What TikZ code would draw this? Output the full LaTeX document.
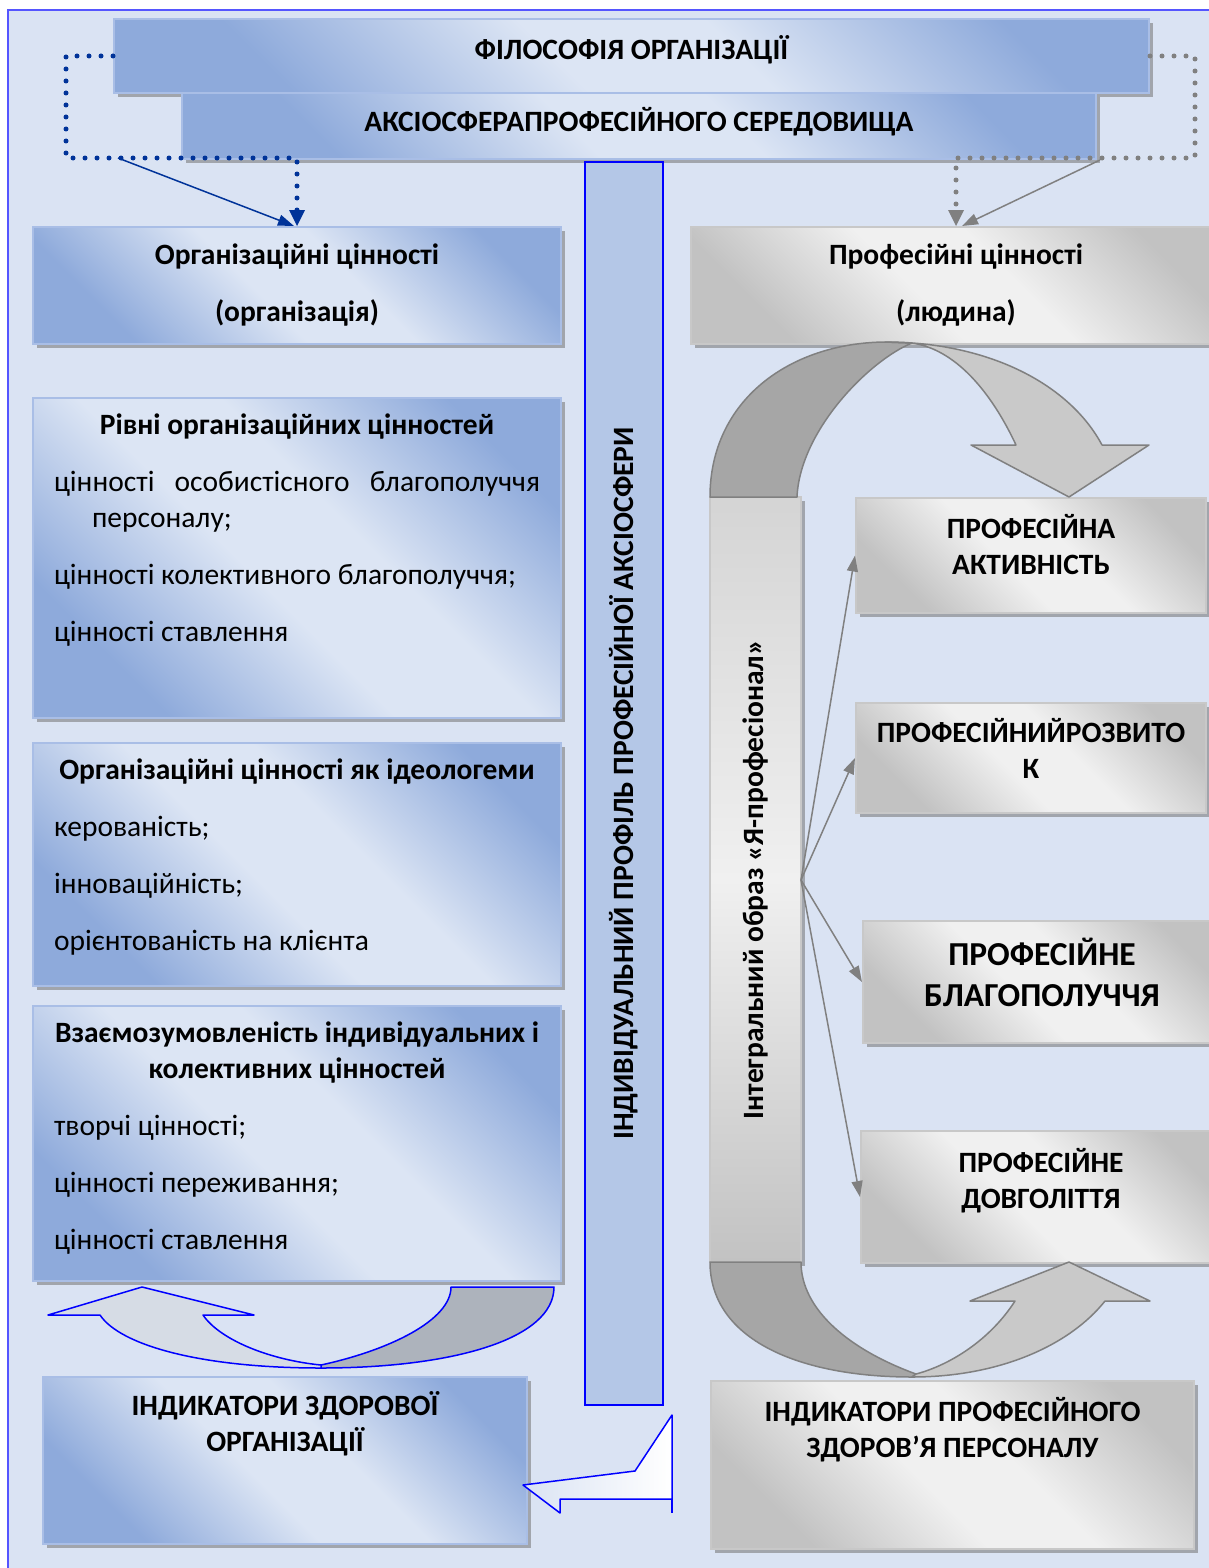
\documentclass[tikz,border=0pt]{standalone}
\usepackage{fontspec}
\setmainfont{Carlito}
\usetikzlibrary{positioning,arrows.meta,shadows}

\definecolor{bgblue}{HTML}{DAE3F3}
\definecolor{frameblue}{HTML}{5555FF}
\definecolor{blueL}{HTML}{DCE5F4}
\definecolor{blueD}{HTML}{8EAADB}
\definecolor{blueline}{HTML}{A9BEE6}
\definecolor{barblue}{HTML}{B4C7E7}
\definecolor{pureblue}{HTML}{0000FF}
\definecolor{dotblue}{HTML}{003399}
\definecolor{grayL}{HTML}{F0F0F0}
\definecolor{grayD}{HTML}{C2C2C2}
\definecolor{grayline}{HTML}{C8C8C8}
\definecolor{arrowgray}{HTML}{808080}
\definecolor{arrowD}{HTML}{A6A6A6}
\definecolor{arrowL}{HTML}{C9C9C9}
\definecolor{uarrowD}{HTML}{ADB3BC}
\definecolor{uarrowL}{HTML}{D6DCE5}

\pgfdeclarehorizontalshading{bluediag}{100bp}{color(0bp)=(blueD); color(26bp)=(blueD); color(45bp)=(blueL); color(57bp)=(blueL); color(76bp)=(blueD); color(100bp)=(blueD)}
\pgfdeclarehorizontalshading{graydiag}{100bp}{color(0bp)=(grayD); color(26bp)=(grayD); color(45bp)=(grayL); color(57bp)=(grayL); color(76bp)=(grayD); color(100bp)=(grayD)}

\begin{document}
\begin{tikzpicture}[x=1pt, y=-1pt, font=\fontsize{29.5}{36}\selectfont]
\tikzstyle{boxshadow}=[drop shadow={shadow xshift=4pt, shadow yshift=-4pt, fill=black!55, opacity=.55}]
\tikzstyle{bluebox}=[rectangle, boxshadow, draw=blueline, line width=2pt, shading=bluediag, shading angle=45, inner sep=0pt, align=center, anchor=north west]
\tikzstyle{graybox}=[rectangle, boxshadow, draw=grayline, line width=2pt, shading=graydiag, shading angle=45, inner sep=0pt, align=center, anchor=north west]
\tikzstyle{headtext}=[font=\fontsize{29.5}{36}\selectfont\bfseries]
\tikzstyle{dotconn}=[line width=5pt, dash pattern=on 0pt off 12pt, line cap=round, -{Triangle[length=16pt, width=16pt, line width=0pt]}]
\tikzstyle{connect}=[line width=1.5pt, -{Triangle[length=16pt, width=11pt]}]
\tikzstyle{band}=[line width=1.5pt, line join=round]

\useasboundingbox (0,0) rectangle (1208,1568);
\draw[frameblue, line width=1.5pt, fill=bgblue] (8,10) rectangle (1250,1600);

% 1. Top boxes
%%%%%%%%%%%%%%
\node[bluebox, headtext, minimum width=1035pt, minimum height=74pt, text depth=18pt] (phil) at (113,18) {ФІЛОСОФІЯ ОРГАНІЗАЦІЇ};
\node[bluebox, headtext, minimum width=914pt, minimum height=66pt, text depth=13pt] (axio) at (181,92) {АКСІОСФЕРАПРОФЕСІЙНОГО СЕРЕДОВИЩА};

% 2. Left column
%%%%%%%%%%%%%%%
\node[bluebox, headtext, minimum width=528pt, minimum height=117pt] (orgval) at (32,226) {Організаційні цінності\\[21pt](організація)};
\node[bluebox, inner xsep=21pt, inner ysep=10pt, below=52pt of orgval] (levels) {\parbox[c][300pt][t]{486pt}{\baselineskip=36pt \vspace*{6pt}
  {\centering\bfseries Рівні організаційних цінностей\par}\parskip=21pt
  цінності\hfill особистісного\hfill благополуччя\\\hspace*{38pt}персоналу;\par
  цінності колективного благополуччя;\par
  цінності ставлення}};
\node[bluebox, inner xsep=21pt, inner ysep=10pt, below=23pt of levels] (ideol) {\parbox[c][223pt][t]{486pt}{\baselineskip=36pt \vspace*{6pt}
  {\centering\bfseries Організаційні цінності як ідеологеми\par}\parskip=21pt
  керованість;\par
  інноваційність;\par
  орієнтованість на клієнта}};
\node[bluebox, inner xsep=21pt, inner ysep=10pt, below=18pt of ideol] (mutual) {\parbox[c][255pt][t]{486pt}{\baselineskip=36pt \vspace*{6pt}
  {\centering\bfseries Взаємозумовленість індивідуальних і\\колективних цінностей\par}\parskip=21pt
  творчі цінності;\par
  цінності переживання;\par
  цінності ставлення}};
\node[bluebox, headtext] (indorg) at (42,1376) {\parbox[c][167pt][t]{484pt}{\centering\vspace*{14pt}ІНДИКАТОРИ ЗДОРОВОЇ\\ОРГАНІЗАЦІЇ}};

% 3. Centre bars
%%%%%%%%%%%%%%%
\node[rectangle, rotate=90, minimum width=1243pt, minimum height=78pt, fill=barblue, draw=pureblue, line width=2pt, headtext] (profile) at (624,783.5) {ІНДИВІДУАЛЬНИЙ ПРОФІЛЬ ПРОФЕСІЙНОЇ АКСІОСФЕРИ};
\node[rectangle, rotate=90, boxshadow, minimum width=765pt, minimum height=91pt, top color=grayD!60!grayL, bottom color=grayD, middle color=grayL, draw=grayline, line width=2pt, headtext] (image) at (755.5,879.5) {Інтегральний образ «Я-професіонал»};

% 4. Right column
%%%%%%%%%%%%%%%%
\node[graybox, headtext, minimum width=530pt, minimum height=117pt] (profval) at (690,226) {Професійні цінності\\[21pt](людина)};
\node[graybox, headtext] (act) at (855,497) {\parbox[c][115pt][t]{350pt}{\centering\vspace*{16pt}ПРОФЕСІЙНА\\АКТИВНІСТЬ}};
\node[graybox, headtext, below=88pt of act] (dev) {\parbox[c][110pt][t]{350pt}{\centering\vspace*{15pt}ПРОФЕСІЙНИЙРОЗВИТО\\К}};
\node[graybox, font=\fontsize{33.5}{41}\selectfont\bfseries] (well) at (862,920) {\parbox[c][122pt][t]{358pt}{\centering\vspace*{17pt}ПРОФЕСІЙНЕ\\БЛАГОПОЛУЧЧЯ}};
\node[graybox, headtext] (long) at (860,1130) {\parbox[c][132pt][t]{360pt}{\centering\vspace*{17pt}ПРОФЕСІЙНЕ\\ДОВГОЛІТТЯ}};
\node[graybox, headtext] (indpers) at (710,1380) {\parbox[c][168pt][t]{483pt}{\centering\vspace*{16pt}ІНДИКАТОРИ ПРОФЕСІЙНОГО\\ЗДОРОВ’Я ПЕРСОНАЛУ}};

% 5. Curved arrows
%%%%%%%%%%%%%%%%%
\filldraw[band, draw=arrowgray, fill=arrowD] (710,497) .. controls (710,400) and (790,343) .. (885,342) -- (912,343) .. controls (870,360) and (800,430) .. (797,497) -- cycle;
\filldraw[band, draw=arrowgray, fill=arrowL] (885,342) .. controls (990,342) and (1070,385) .. (1102,445) -- (1149,445) -- (1069,497) -- (971,445) -- (1016,445) .. controls (995,400) and (960,350) .. (912,343) -- cycle;
\filldraw[band, draw=arrowgray, fill=arrowD] (710,1262) .. controls (710,1340) and (800,1377) .. (912,1377) -- (916,1374) .. controls (850,1350) and (801,1310) .. (801,1262) -- cycle;
\filldraw[band, draw=arrowgray, fill=arrowL] (912,1377) .. controls (1000,1377) and (1070,1345) .. (1105,1301) -- (1150,1301) -- (1069,1262) -- (970,1301) -- (1015,1301) .. controls (990,1340) and (950,1365) .. (916,1374) -- cycle;
\filldraw[band, draw=pureblue, fill=uarrowD] (451,1287) -- (554,1287) .. controls (554,1340) and (450,1368) .. (321,1368) -- (321,1365) .. controls (390,1350) and (451,1320) .. (451,1287) -- cycle;
\filldraw[band, draw=pureblue, fill=uarrowL] (321,1368) .. controls (200,1368) and (120,1345) .. (100,1315) -- (48,1315) -- (142,1287) -- (254,1315) -- (203,1315) .. controls (220,1340) and (270,1360) .. (321,1365) -- cycle;
\draw[band, draw=pureblue, left color=bgblue, right color=white] (523,1485) -- (635,1471) -- (672,1415) -- (672,1499) -- (560,1499) -- (560,1513) -- cycle;
\draw[band, pureblue] (672,1499) -- (672,1513);

% 6. Connectors
%%%%%%%%%%%%%%
\coordinate (dl) at (66,158);
\coordinate (dr) at (1195,158);
\coordinate (bl) at (118,158);
\coordinate (br) at (1100,160);
\coordinate (hub) at (801,880);

\draw[dotconn, dotblue] (phil.west) -| (dl) -| (orgval.north);
\draw[dotconn, arrowgray] (phil.east) -| (dr) -| (profval.north);
\draw[connect, dotblue] (bl) -- ([xshift=-3pt]orgval.north);
\draw[connect, arrowgray] (br) -- ([xshift=6pt]profval.north);
\foreach \n in {act,dev,well,long}
  \draw[connect, arrowgray] (hub) -- (\n.west);

\end{tikzpicture}
\end{document}
